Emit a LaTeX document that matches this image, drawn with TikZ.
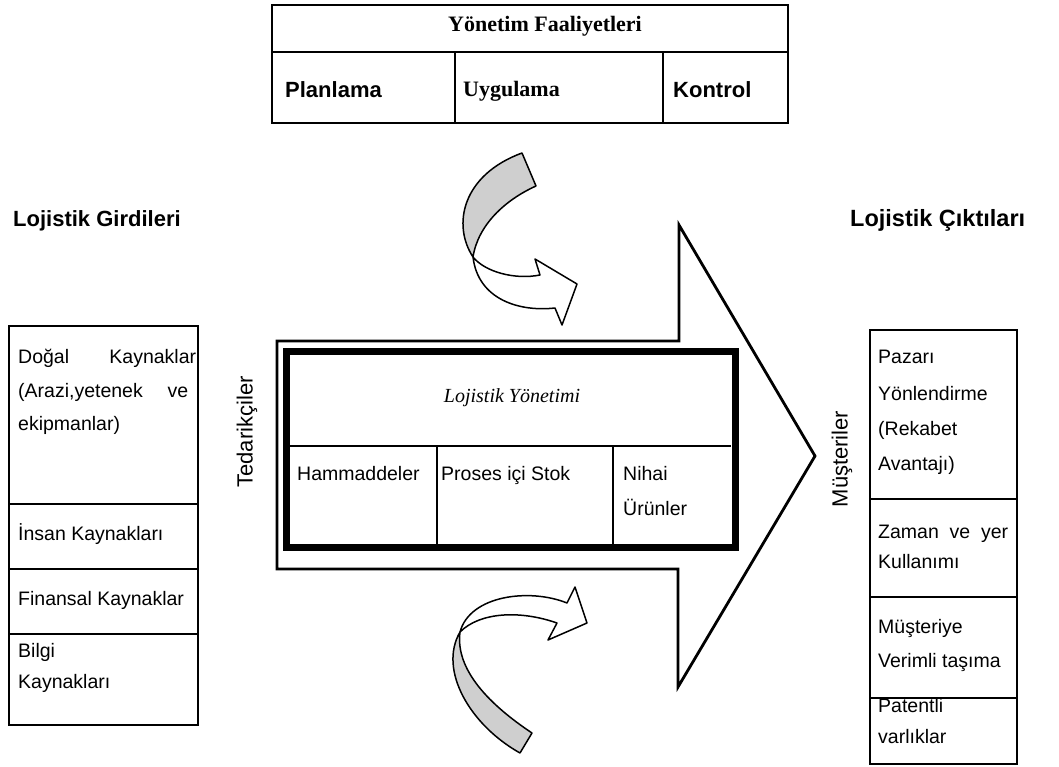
\documentclass[tikz,border=0pt]{standalone}
\usepackage{fontspec}
\setmainfont{Liberation Serif}
\setsansfont{Liberation Sans}
\definecolor{ribbongray}{HTML}{CFCFCF}
\tikzset{
  body/.style={font=\sffamily\fontsize{19.5}{23}\selectfont, inner sep=0pt, anchor=base west},
  lbl/.style={font=\sffamily\bfseries\fontsize{22}{26}\selectfont, inner sep=0pt, anchor=base west},
  tabsans/.style={font=\sffamily\bfseries\fontsize{22}{26}\selectfont, inner sep=0pt, anchor=base west},
  tabserif/.style={font=\rmfamily\bfseries\fontsize{22}{26}\selectfont, inner sep=0pt},
  vlabel/.style={font=\sffamily\fontsize{22}{26}\selectfont, inner sep=0pt, rotate=90},
  boxline/.style={line width=1.3pt, draw=black},
  bigarrow/.style={line width=2.8pt, draw=black, line join=miter},
  thickbox/.style={line width=7pt, draw=black},
  ribbon/.style={line width=1.5pt, draw=black, line join=round},
}
\begin{document}
\begin{tikzpicture}[x=1pt,y=-1pt]
\useasboundingbox (0,0) rectangle (1059,767);

% ---------- top table ----------
\draw[boxline] (272,5) rectangle (788,123);
\draw[boxline] (272,52) -- (788,52);
\draw[boxline] (455,52) -- (455,123);
\draw[boxline] (663,52) -- (663,123);
\node[tabserif, anchor=base] (yon) at (545,32) {Yönetim Faaliyetleri};
\node[tabsans] (plan) at (285,98) {Planlama};
\node[tabserif, anchor=base west] (uyg) at (463,97) {Uygulama};
\node[tabsans] (kont) at (673,98) {Kontrol};

% ---------- side labels ----------
\node[lbl] (girdi) at (13,227) {Lojistik Girdileri};
\node[lbl, font=\sffamily\bfseries\fontsize{23.5}{27}\selectfont] (cikti) at (850,227) {Lojistik Çıktıları};

% ---------- left box ----------
\draw[boxline] (9,326) rectangle (198,725);
\draw[boxline] (9,504) -- (198,504);
\draw[boxline] (9,569) -- (198,569);
\draw[boxline] (9,634) -- (198,634);
\node[body] (l1a) at (18,363) {\makebox[178pt][s]{Doğal Kaynaklar}};
\node[body] (l1b) at (18,397) {\makebox[170pt][s]{(Arazi,yetenek ve}};
\node[body] (l1c) at (18,430) {ekipmanlar)};
\node[body] (l2) at (18,540) {İnsan Kaynakları};
\node[body] (l3) at (18,605) {Finansal Kaynaklar};
\node[body] (l4a) at (18,657) {Bilgi};
\node[body] (l4b) at (18,688) {Kaynakları};

% ---------- right box ----------
\draw[boxline] (870,330) rectangle (1017,764);
\draw[boxline] (870,499) -- (1017,499);
\draw[boxline] (870,597) -- (1017,597);
\draw[boxline] (870,698) -- (1017,698);
\node[body] (r1a) at (878,363) {Pazarı};
\node[body] (r1b) at (878,400) {Yönlendirme};
\node[body] (r1c) at (878,435) {(Rekabet};
\node[body] (r1d) at (878,470) {Avantajı)};
\node[body] (r2a) at (878,538) {\makebox[130pt][s]{Zaman ve yer}};
\node[body] (r2b) at (878,568) {Kullanımı};
\node[body] (r3a) at (878,633) {Müşteriye};
\node[body] (r3b) at (878,667) {Verimli taşıma};
\node[body] (r4a) at (878,712) {Patentli};
\node[body] (r4b) at (878,743) {varlıklar};

% ---------- vertical labels ----------
\node[vlabel] (ted) at (247,432) {Tedarikçiler};
\node[vlabel] (mus) at (842,459) {Müşteriler};

% ---------- big arrow ----------
\draw[bigarrow] (277,341) -- (679,341) -- (679,225) -- (815,456) -- (678,687) -- (678,569) -- (277,569) -- cycle;

% ---------- logistics management box ----------
\draw[thickbox] (286.5,351.5) rectangle (735,547.5);
\draw[boxline] (290,446) -- (731,446);
\draw[boxline] (437,446) -- (437,544);
\draw[boxline] (613,446) -- (613,544);
\node[font=\rmfamily\itshape\fontsize{20}{24}\selectfont, inner sep=0pt, anchor=base] (lym) at (512,402) {Lojistik Yönetimi};
\node[body] (ham) at (297,480) {Hammaddeler};
\node[body] (pro) at (441,480) {Proses içi Stok};
\node[body] (nih) at (623,480) {Nihai};
\node[body] (uru) at (623,515) {Ürünler};

% ---------- top curved arrow ----------
\draw[ribbon, fill=ribbongray] (522,153) -- (536,186)
   .. controls (505,200) and (478,225) .. (473,257)
   .. controls (452,225) and (462,175) .. (522,153) -- cycle;
\draw[ribbon, fill=white] (473,257)
   .. controls (478,300) and (520,312) .. (555,308)
   -- (562,325) -- (577,284) -- (535,259) -- (540,275)
   .. controls (515,280) and (485,272) .. (473,257) -- cycle;

% ---------- bottom curved arrow ----------
\draw[ribbon, fill=ribbongray] (520,753) -- (532,733)
   .. controls (490,705) and (455,670) .. (460,632)
   .. controls (438,670) and (470,725) .. (520,753) -- cycle;
\draw[ribbon, fill=white] (460,632)
   .. controls (470,595) and (530,588) .. (567,603)
   -- (575,587) -- (587,623) -- (548,640) -- (557,623)
   .. controls (520,610) and (480,612) .. (460,632) -- cycle;
\end{tikzpicture}
\end{document}
